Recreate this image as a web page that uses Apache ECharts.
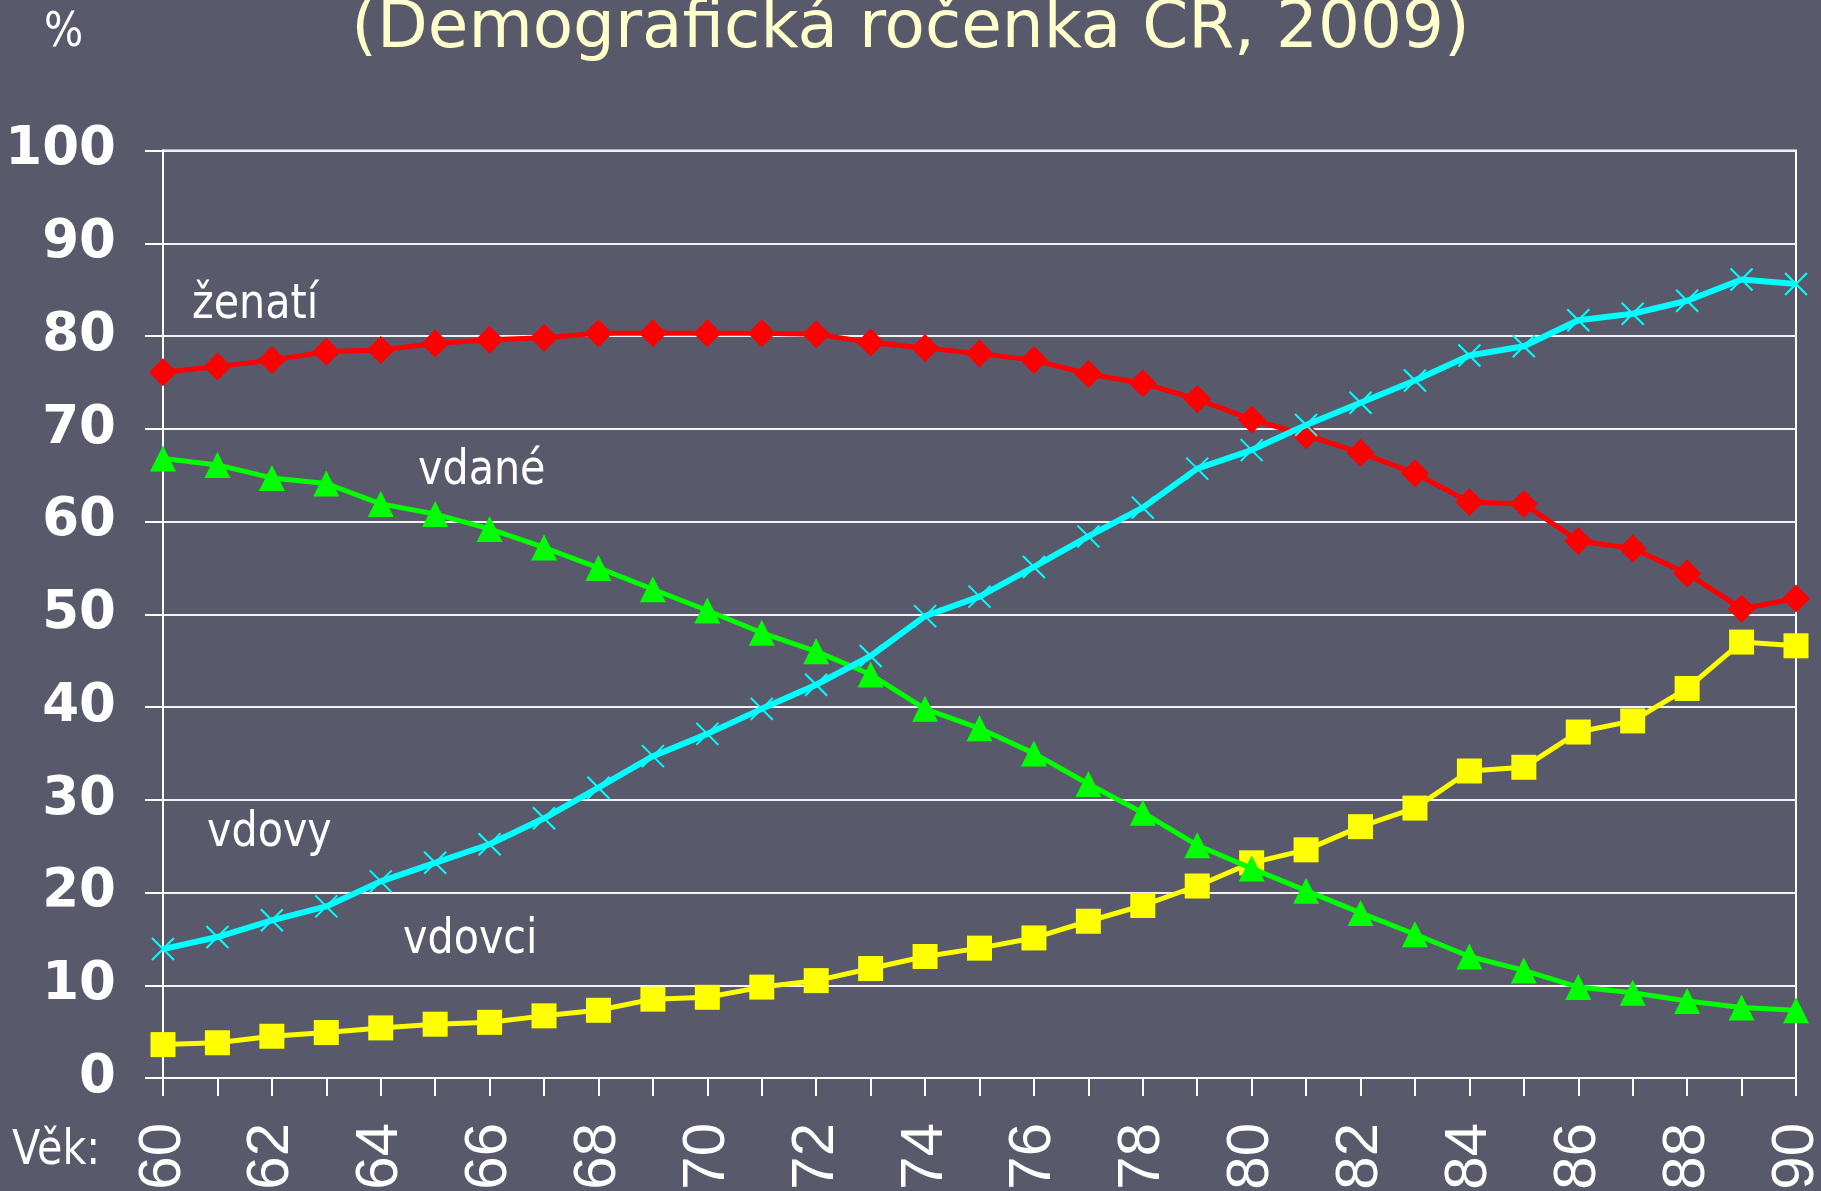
<!DOCTYPE html>
<html>
<head>
<meta charset="utf-8">
<script src="https://cdn.jsdelivr.net/npm/echarts@6/dist/echarts.min.js"></script>
<style>
html,body{margin:0;padding:0;background:#585A6B;}
#c{width:1821px;height:1191px;}
</style>
</head>
<body>
<div id="c"></div>
<script>
const ages = ['60','61','62','63','64','65','66','67','68','69','70','71','72','73','74','75','76','77','78','79','80','81','82','83','84','85','86','87','88','89','90'];
const zenati = [76.1,76.7,77.4,78.3,78.5,79.2,79.6,79.8,80.3,80.3,80.3,80.3,80.2,79.3,78.7,78.1,77.4,75.9,74.9,73.2,71.0,69.3,67.4,65.2,62.1,61.9,57.9,57.1,54.4,50.6,51.7];
const vdane = [66.8,66.1,64.7,64.1,61.9,60.8,59.2,57.2,55.0,52.7,50.4,48.0,46.0,43.5,39.8,37.7,35.0,31.7,28.6,25.1,22.6,20.2,17.8,15.5,13.1,11.6,9.8,9.2,8.3,7.6,7.3];
const vdovy = [13.9,15.2,17.0,18.5,21.2,23.2,25.2,28.0,31.3,34.7,37.1,39.8,42.4,45.5,49.8,51.9,55.1,58.4,61.5,65.7,67.7,70.4,72.8,75.2,77.9,78.9,81.7,82.4,83.8,86.1,85.6];
const vdovci = [3.6,3.8,4.5,4.9,5.4,5.8,6.0,6.7,7.3,8.5,8.7,9.8,10.5,11.8,13.1,14.0,15.1,16.9,18.6,20.7,23.2,24.6,27.1,29.1,33.1,33.5,37.3,38.5,42.0,47.0,46.6];
const titleText = '(Demografická ročenka ČR, 2009)';
const unitText = '%';
const xAxisName = 'Věk:';
const seriesNames = ['ženatí','vdané','vdovy','vdovci'];

const chart = echarts.init(document.getElementById('c'), null, {renderer:'canvas'});
const lblFont = 'normal 48px "DejaVu Sans"';
function txt(text, x, y, fill, font, sx, align) {
  return {type:'text', x:x, y:y, scaleX:sx, scaleY:1, silent:true, z:100,
    style:{text:text, x:0, y:0, fill:fill, font:font, textAlign:align||'left', textVerticalAlign:'middle'}};
}
chart.setOption({
  animation:false,
  backgroundColor:'#585A6B',
  grid:{left:163, right:25, top:150.5, bottom:113, outerBoundsMode:'none', containLabel:false,
        show:true, borderColor:'#ffffff', borderWidth:2, backgroundColor:'transparent'},
  xAxis:{
    type:'category', data:ages, boundaryGap:false,
    axisLine:{show:true, lineStyle:{color:'#ffffff', width:2}},
    axisTick:{show:true, interval:0, length:18, lineStyle:{color:'#ffffff', width:2}},
    axisLabel:{interval:1, rotate:90, margin:45, color:'#ffffff', fontFamily:'Liberation Sans', fontSize:60},
    splitLine:{show:false}
  },
  yAxis:{
    type:'value', min:0, max:100, interval:10,
    axisLine:{show:true, lineStyle:{color:'#ffffff', width:2}},
    axisTick:{show:true, length:18, lineStyle:{color:'#ffffff', width:2}},
    axisLabel:{margin:47, color:'#ffffff', fontFamily:'DejaVu Sans', fontWeight:'bold', fontSize:53},
    splitLine:{show:true, lineStyle:{color:'#f2f2f2', width:2}}
  },
  series:[
    {name:seriesNames[3], type:'line', data:vdovci, symbol:'rect', symbolSize:25,
     lineStyle:{color:'#FFFF00', width:5}, itemStyle:{color:'#FFFF00'}, z:2},
    {name:seriesNames[0], type:'line', data:zenati, symbol:'diamond', symbolSize:28,
     lineStyle:{color:'#FF0000', width:5}, itemStyle:{color:'#FF0000'}, z:3},
    {name:seriesNames[1], type:'line', data:vdane, symbol:'triangle', symbolSize:26,
     lineStyle:{color:'#00FF00', width:5}, itemStyle:{color:'#00FF00'}, z:4},
    {name:seriesNames[2], type:'line', data:vdovy, symbol:'path://M0,0L20,20M20,0L0,20', symbolSize:22,
     lineStyle:{color:'#00FFFF', width:6}, itemStyle:{color:'#00FFFF', borderColor:'#00FFFF', borderWidth:2}, z:5}
  ],
  graphic:[
    txt(titleText, 910.5, 30, '#FFFFCC', 'normal 66px "DejaVu Sans"', 1, 'center'),
    txt(unitText, 44, 34, '#ffffff', lblFont, 0.86),
    txt(xAxisName, 12, 1152, '#ffffff', lblFont, 0.86),
    txt(seriesNames[0], 192, 306, '#ffffff', lblFont, 0.86),
    txt(seriesNames[1], 418, 472, '#ffffff', lblFont, 0.86),
    txt(seriesNames[2], 207, 834, '#ffffff', lblFont, 0.86),
    txt(seriesNames[3], 403, 941, '#ffffff', lblFont, 0.86)
  ]
});
</script>
</body>
</html>
